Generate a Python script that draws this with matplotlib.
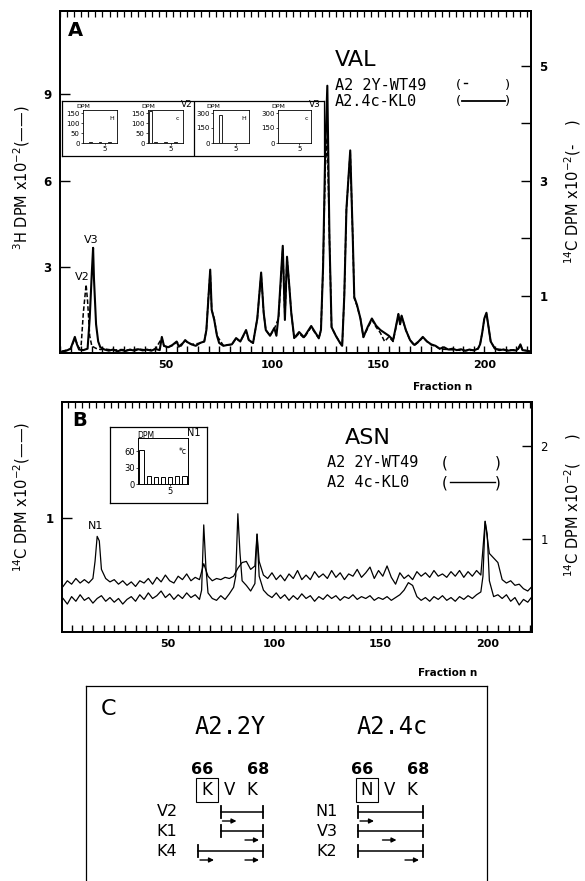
import matplotlib
matplotlib.use('Agg')
import matplotlib.pyplot as plt
from matplotlib.ticker import MultipleLocator, FixedLocator, FixedFormatter, NullFormatter
from matplotlib.lines import Line2D
from matplotlib.patches import Rectangle
import numpy as np

# ---------------- data: panel A (VAL) ----------------
a_frac_3h = [
    1, 3, 5, 6, 7, 8, 9, 11, 13, 14,
    15, 15.6, 16, 17, 18, 19, 21, 23, 25, 27,
    29, 31, 33, 35, 37, 39, 41, 43, 45, 47,
    48, 49, 51, 53, 55, 56, 58, 59, 60, 62,
    64, 66, 68, 69, 70, 70.8, 71.5, 72.7, 74, 75,
    77, 79, 81, 83, 85, 87.7, 89, 91, 93, 94.8,
    96, 97, 99, 101, 102, 103, 104, 105, 106, 107,
    108, 109, 110.4, 112.7, 115, 118.4, 120, 122, 123, 124,
    125, 126, 127, 128, 130, 132, 133, 134, 135, 136.8,
    138, 138.7, 140, 141.6, 143, 145, 147, 149, 151, 153,
    155, 157, 158, 159.5, 160.3, 161, 163, 165, 167, 169,
    171, 173, 175, 177, 179, 181, 183, 185, 187, 189,
    191, 193, 195, 197, 198, 199, 200, 201, 202, 203,
    205, 207, 209, 211, 213, 215, 216, 217, 218, 220,
    221.5]
a_dpm_3h = [
    0.05, 0.08, 0.15, 0.35, 0.56, 0.30, 0.12, 0.10, 0.15, 1.20,
    2.80, 3.66, 2.60, 1.00, 0.40, 0.20, 0.12, 0.08, 0.12, 0.06,
    0.10, 0.07, 0.12, 0.08, 0.13, 0.09, 0.12, 0.08, 0.14, 0.10,
    0.56, 0.25, 0.20, 0.28, 0.40, 0.22, 0.35, 0.45, 0.38, 0.30,
    0.25, 0.35, 0.40, 0.80, 2.00, 2.90, 1.50, 1.15, 0.60, 0.35,
    0.25, 0.28, 0.30, 0.52, 0.40, 0.80, 0.45, 0.35, 1.20, 2.80,
    1.40, 0.80, 0.60, 0.87, 0.60, 1.30, 2.50, 3.73, 1.15, 3.35,
    2.40, 1.40, 0.52, 0.73, 0.55, 0.94, 0.75, 0.52, 0.80, 3.00,
    7.00, 9.30, 4.00, 0.90, 0.60, 0.35, 0.25, 2.00, 5.00, 7.05,
    4.00, 1.95, 1.67, 1.20, 0.56, 0.90, 1.20, 0.95, 0.80, 0.70,
    0.60, 0.45, 0.80, 1.36, 1.00, 1.30, 0.80, 0.45, 0.28, 0.40,
    0.56, 0.40, 0.30, 0.25, 0.15, 0.20, 0.12, 0.15, 0.10, 0.13,
    0.08, 0.12, 0.09, 0.15, 0.30, 0.70, 1.20, 1.40, 0.90, 0.40,
    0.15, 0.10, 0.12, 0.08, 0.10, 0.09, 0.15, 0.30, 0.10, 0.08,
    0.06]

a_frac_14c = [
    1, 3, 5, 7, 9, 10, 11, 12.3, 13, 14,
    15, 17, 19, 21, 25, 29, 33, 37, 41, 45,
    48, 49, 51, 53, 55, 57, 59, 62, 66, 68,
    69, 70, 70.8, 71.5, 72.7, 74, 77, 81, 83, 85,
    87.7, 89, 91, 93, 94.8, 96, 97, 99, 101, 103,
    104, 105, 106, 107, 108, 109, 110.4, 112.7, 115, 118.4,
    120, 122, 123, 124, 125, 126, 127, 128, 130, 132,
    133, 134, 135, 136.8, 138, 138.7, 140, 141.6, 143, 145,
    147, 149, 151, 153, 155, 157, 158, 159.5, 160.3, 161,
    163, 165, 167, 169, 171, 173, 175, 177, 179, 183,
    187, 191, 195, 197, 198, 199, 200, 201, 202, 203,
    205, 209, 213, 216, 217, 218, 221.5]
a_dpm_14c = [
    0.03, 0.05, 0.07, 0.25, 0.08, 0.15, 0.70, 1.19, 0.90, 0.30,
    0.12, 0.08, 0.06, 0.07, 0.05, 0.06, 0.05, 0.07, 0.05, 0.07,
    0.26, 0.12, 0.10, 0.13, 0.19, 0.12, 0.21, 0.15, 0.17, 0.20,
    0.40, 1.00, 1.42, 0.75, 0.60, 0.30, 0.13, 0.15, 0.25, 0.20,
    0.38, 0.22, 0.17, 0.60, 1.38, 0.70, 0.40, 0.30, 0.42, 0.60,
    1.20, 1.82, 0.60, 1.65, 1.20, 0.70, 0.25, 0.34, 0.26, 0.45,
    0.36, 0.25, 0.40, 1.50, 3.20, 3.75, 2.00, 0.45, 0.30, 0.18,
    0.12, 1.00, 2.50, 3.50, 2.00, 0.95, 0.82, 0.60, 0.27, 0.43,
    0.58, 0.45, 0.35, 0.20, 0.28, 0.20, 0.38, 0.67, 0.50, 0.64,
    0.40, 0.22, 0.13, 0.19, 0.27, 0.20, 0.14, 0.12, 0.07, 0.06,
    0.05, 0.04, 0.05, 0.07, 0.15, 0.35, 0.60, 0.68, 0.45, 0.20,
    0.07, 0.06, 0.05, 0.07, 0.14, 0.05, 0.03]

# Edman cycle insets (panel A)
inset_cycles = [1, 2, 3, 4, 5, 6, 7]
a_inset_v2_3h = [2, 3, 2, 3, 2, 3, 2]
a_inset_v2_14c = [158, 3, 2, 3, 2, 3, 2]
a_inset_v3_3h = [4, 285, 4, 3, 4, 3, 4]
a_inset_v3_14c = [3, 4, 3, 4, 3, 2, 3]

# ---------------- data: panel B (ASN) ----------------
b_frac_4c = [
    1, 3, 5, 7, 9, 11, 13, 15, 16, 17,
    18, 19, 21, 23, 25, 27, 29, 31, 33, 35,
    37, 39, 41, 43, 45, 47, 49, 51, 53, 55,
    57, 59, 61, 63, 65, 67, 69, 71, 73, 75,
    77, 79, 81, 83, 85, 87, 89, 91, 92, 93,
    95, 97, 99, 101, 103, 105, 107, 109, 111, 113,
    115, 117, 119, 121, 123, 125, 127, 129, 131, 133,
    135, 137, 139, 141, 143, 145, 147, 149, 151, 153,
    155, 157, 159, 161, 163, 165, 167, 169, 171, 173,
    175, 177, 179, 181, 183, 185, 187, 189, 191, 193,
    195, 197, 199, 201, 203, 205, 207, 209, 211, 213,
    215, 217, 219, 221]
b_dpm_4c = [
    0.40, 0.45, 0.42, 0.47, 0.43, 0.46, 0.43, 0.47, 0.62, 0.84,
    0.80, 0.55, 0.47, 0.44, 0.46, 0.42, 0.45, 0.41, 0.44, 0.40,
    0.45, 0.43, 0.47, 0.42, 0.48, 0.44, 0.50, 0.45, 0.43, 0.49,
    0.46, 0.51, 0.45, 0.48, 0.46, 0.60, 0.49, 0.45, 0.47, 0.46,
    0.48, 0.47, 0.49, 0.56, 0.61, 0.62, 0.55, 0.58, 0.86, 0.62,
    0.50, 0.47, 0.52, 0.46, 0.50, 0.45, 0.51, 0.47, 0.54, 0.46,
    0.50, 0.46, 0.53, 0.48, 0.51, 0.47, 0.54, 0.48, 0.52, 0.46,
    0.51, 0.49, 0.55, 0.48, 0.52, 0.57, 0.47, 0.54, 0.49, 0.58,
    0.48, 0.42, 0.52, 0.47, 0.50, 0.46, 0.53, 0.49, 0.52, 0.48,
    0.54, 0.49, 0.51, 0.48, 0.53, 0.49, 0.54, 0.48, 0.53, 0.49,
    0.54, 0.50, 0.97, 0.69, 0.65, 0.61, 0.46, 0.43, 0.45, 0.41,
    0.42, 0.38, 0.36, 0.40]

b_frac_2y = [
    1, 3, 5, 7, 9, 11, 13, 15, 17, 19,
    21, 23, 25, 27, 29, 31, 33, 35, 37, 39,
    41, 43, 45, 47, 49, 51, 53, 55, 57, 59,
    61, 63, 65, 66, 67, 68, 69, 71, 73, 75,
    77, 79, 81, 82, 83, 84, 85, 87, 89, 91,
    92, 93, 95, 97, 99, 101, 103, 105, 107, 109,
    111, 113, 115, 117, 119, 121, 123, 125, 127, 129,
    131, 133, 135, 137, 139, 141, 143, 145, 147, 149,
    151, 153, 155, 157, 159, 161, 163, 165, 167, 169,
    171, 173, 175, 177, 179, 181, 183, 185, 187, 189,
    191, 193, 195, 197, 198, 199, 200, 201, 203, 205,
    207, 209, 211, 213, 215, 217, 219, 221]
b_dpm_2y = [
    0.36, 0.30, 0.38, 0.33, 0.40, 0.34, 0.37, 0.31, 0.36, 0.39,
    0.33, 0.37, 0.32, 0.36, 0.30, 0.35, 0.38, 0.33, 0.40, 0.35,
    0.42, 0.36, 0.39, 0.44, 0.37, 0.41, 0.35, 0.40, 0.36, 0.42,
    0.37, 0.40, 0.35, 0.45, 1.15, 0.70, 0.42, 0.36, 0.34, 0.39,
    0.35, 0.41, 0.48, 0.60, 1.27, 0.85, 0.55, 0.50, 0.44, 0.52,
    1.05, 0.60, 0.45, 0.40, 0.37, 0.42, 0.36, 0.40, 0.34, 0.39,
    0.35, 0.41, 0.36, 0.39, 0.33, 0.38, 0.35, 0.40, 0.36, 0.39,
    0.34, 0.38, 0.36, 0.40, 0.35, 0.38, 0.36, 0.39, 0.34, 0.37,
    0.35, 0.38, 0.34, 0.37, 0.40, 0.45, 0.53, 0.50, 0.38, 0.34,
    0.37, 0.33, 0.38, 0.35, 0.39, 0.34, 0.37, 0.33, 0.38, 0.35,
    0.39, 0.36, 0.40, 0.43, 0.60, 1.19, 1.05, 0.55, 0.38, 0.40,
    0.36, 0.40, 0.33, 0.37, 0.29, 0.35, 0.32, 0.38]

b_inset_n1_14c = [62, 14, 13, 12, 13, 14, 15]

# ---------------- data: panel C ----------------
c_groups = ['A2.2Y', 'A2.4c']
c_numbers = [66, 68]
c_residues = [['K', 'V', 'K'], ['N', 'V', 'K']]
c_pep_names = [['V2', 'K1', 'K4'], ['N1', 'V3', 'K2']]
c_pep_start = [[67, 67, 66], [66, 66, 66]]
c_pep_end = [[68, 68, 68], [68, 68, 68]]
c_pep_marked = [[[67], [68], [66, 68]], [[66], [67], [68]]]

# ---------------- layout helpers ----------------
W, H = 585, 881
plt.rcParams['font.family'] = ['DejaVu Sans']
fig = plt.figure(figsize=(W / 100, H / 100), dpi=100)


def rect(x0, y0, x1, y1):
    return [x0 / W, 1 - y1 / H, (x1 - x0) / W, (y1 - y0) / H]


def ftext(x, y, s, **kw):
    fig.text(x / W, 1 - y / H, s, **kw)


def fline(x0, x1, y, **kw):
    fig.add_artist(Line2D([x0 / W, x1 / W], [1 - y / H, 1 - y / H], color='k', **kw))


def style_main(ax, xmax, xmin=0):
    ax.set_xlim(xmin, xmax)
    ax.xaxis.set_major_locator(FixedLocator([50, 100, 150, 200]))
    ax.xaxis.set_minor_locator(MultipleLocator(5))
    ax.tick_params(axis='x', which='both', direction='in', length=5, width=1,
                   labelsize=8, pad=5)
    ax.tick_params(axis='y', which='both', direction='in', length=7, width=1,
                   labelsize=8.5, pad=6)
    for lab in ax.get_xticklabels() + ax.get_yticklabels():
        lab.set_fontweight('bold')
    for s in ax.spines.values():
        s.set_linewidth(1.3)
    sec = ax.secondary_xaxis('top')
    sec.set_xticks(np.arange(0, xmax, 10 / 3))
    sec.xaxis.set_major_formatter(NullFormatter())
    sec.tick_params(direction='in', length=4, width=0.9)
    sec.spines['top'].set_linewidth(1.3)


# ================= Panel A =================
axA = fig.add_axes(rect(60, 11, 531, 353))
axA.plot(a_frac_3h, a_dpm_3h, color='k', lw=1.5)
axA.set_ylim(0, 11.9)
axA.set_yticks([3, 6, 9])
style_main(axA, 222)
axA2 = axA.twinx()
axA2.plot(a_frac_14c, a_dpm_14c, color='k', lw=1.1, ls=(0, (3, 1.5)))
axA2.set_ylim(0, 5.95)
axA2.yaxis.set_major_locator(FixedLocator([1, 2, 3, 4, 5]))
axA2.yaxis.set_major_formatter(FixedFormatter(['1', '', '3', '', '5']))
axA2.tick_params(axis='y', direction='in', length=7, width=1, labelsize=8.5, pad=6)
for lab in axA2.get_yticklabels():
    lab.set_fontweight('bold')
for s in axA2.spines.values():
    s.set_linewidth(1.3)

axA.text(14.9, 3.94, 'V3', fontsize=8, ha='center', va='center')
axA.text(10.6, 2.63, 'V2', fontsize=8, ha='center', va='center')

ftext(75, 30, 'A', fontsize=14, fontweight='bold', ha='center', va='center')
ftext(335, 60, 'VAL', fontsize=16, ha='left', va='center')
ftext(335, 85, 'A2 2Y-WT49', fontsize=11, family='DejaVu Sans Mono', ha='left', va='center')
ftext(335, 101, 'A2.4c-KL0', fontsize=11, family='DejaVu Sans Mono', ha='left', va='center')
for yy in (85, 101):
    ftext(458, yy, '(', fontsize=9.5, ha='center', va='center')
    ftext(508, yy, ')', fontsize=9.5, ha='center', va='center')
fline(464, 467, 83, lw=1.0)
fline(462, 505, 101, lw=1.3)
ftext(443, 387, 'Fraction n', fontsize=7.5, fontweight='bold', ha='center', va='center')
ftext(22, 178, r'$^{3}$H DPM x10$^{-2}$(——)', fontsize=10.5, rotation=90,
      ha='center', va='center')
ftext(573, 192, r'$^{14}$C DPM x10$^{-2}$(-    )', fontsize=10.5, rotation=90,
      ha='center', va='center')

# inset box with four Edman cycle histograms
axBox = fig.add_axes(rect(62, 101, 324, 156))
axBox.set_xticks([])
axBox.set_yticks([])
for s in axBox.spines.values():
    s.set_linewidth(0.9)
axBox.plot([0.504, 0.504], [0, 1], color='k', lw=0.9, transform=axBox.transAxes)


def mini_hist(r, vals, ymax, yticks, iso, pep=None):
    ax = fig.add_axes(r)
    ax.bar(inset_cycles, vals, width=0.55, facecolor='white', edgecolor='k', lw=0.6)
    ax.set_xlim(0.5, 7.5)
    ax.set_ylim(0, ymax)
    ax.set_yticks(yticks)
    ax.set_yticklabels([str(t) for t in yticks])
    ax.set_xticks([5])
    ax.set_xticklabels(['5'])
    ax.tick_params(labelsize=5, length=1.5, width=0.5, pad=1)
    for s in ax.spines.values():
        s.set_linewidth(0.6)
    ax.patch.set_alpha(0)
    ax.text(0.0, 1.03, 'DPM', fontsize=4.5, transform=ax.transAxes, ha='center', va='bottom')
    ax.text(0.85, 0.75, iso, fontsize=4.5, transform=ax.transAxes, ha='center', va='center')
    if pep:
        ax.text(1.12, 1.03, pep, fontsize=6.5, transform=ax.transAxes, ha='center', va='bottom')
    return ax


mini_hist(rect(83, 110, 117, 143), a_inset_v2_3h, 165, [0, 50, 100, 150], 'H')
mini_hist(rect(148, 110, 183, 143), a_inset_v2_14c, 165, [0, 50, 100, 150], 'c', 'V2')
mini_hist(rect(213, 110, 249, 143), a_inset_v3_3h, 330, [0, 150, 300], 'H')
mini_hist(rect(278, 110, 311, 143), a_inset_v3_14c, 330, [0, 150, 300], 'c', 'V3')

# ================= Panel B =================
axB = fig.add_axes(rect(62, 402, 532, 632))
axB.plot(b_frac_4c, b_dpm_4c, color='k', lw=0.9)
axB.set_ylim(0, 2.02)
axB.set_yticks([1])
style_main(axB, 221, 0.5)
axB2 = axB.twinx()
axB2.plot(b_frac_2y, b_dpm_2y, color='k', lw=0.9)
axB2.set_ylim(0, 2.47)
axB2.set_yticks([1, 2])
axB2.tick_params(axis='y', direction='in', length=7, width=1, labelsize=8.5, pad=6)
for s in axB2.spines.values():
    s.set_linewidth(1.3)
axB.text(16.4, 0.93, 'N1', fontsize=8, ha='center', va='center')

ftext(80, 420, 'B', fontsize=14, fontweight='bold', ha='center', va='center')
ftext(345, 438, 'ASN', fontsize=16, ha='left', va='center')
ftext(327, 463, 'A2 2Y-WT49', fontsize=11, family='DejaVu Sans Mono', ha='left', va='center')
ftext(327, 483, 'A2 4c-KL0', fontsize=11, family='DejaVu Sans Mono', ha='left', va='center')
for yy in (463, 483):
    ftext(445, yy, '(', fontsize=11, ha='center', va='center')
    ftext(498, yy, ')', fontsize=11, ha='center', va='center')
fline(450, 495, 482, lw=1.0)
ftext(448, 673, 'Fraction n', fontsize=7.5, fontweight='bold', ha='center', va='center')
ftext(22, 497, r'$^{14}$C DPM x10$^{-2}$(——)', fontsize=10.5, rotation=90,
      ha='center', va='center')
ftext(573, 505, r'$^{14}$C DPM x10$^{-2}$(     )', fontsize=10.5, rotation=90,
      ha='center', va='center')

axBb = fig.add_axes(rect(110, 427, 207, 503))
axBb.set_xticks([])
axBb.set_yticks([])
for s in axBb.spines.values():
    s.set_linewidth(0.9)
axBi = fig.add_axes(rect(138, 438, 188, 484))
axBi.bar(inset_cycles, b_inset_n1_14c, width=0.6, facecolor='white', edgecolor='k', lw=0.7)
axBi.set_xlim(0.5, 7.5)
axBi.set_ylim(0, 84)
axBi.set_yticks([0, 30, 60])
axBi.set_xticks([5])
axBi.tick_params(labelsize=6, length=1.5, width=0.5, pad=1)
for s in axBi.spines.values():
    s.set_linewidth(0.7)
axBi.patch.set_alpha(0)
ftext(146, 435, 'DPM', fontsize=5.5, ha='center', va='center')
ftext(194, 433, 'N1', fontsize=7, ha='center', va='center')
ftext(183, 452, '*c', fontsize=5.5, ha='center', va='center')

# ================= Panel C =================
axC = fig.add_axes(rect(86, 686, 487, 900))
axC.set_xlim(86, 487)
axC.set_ylim(900, 686)
axC.set_xticks([])
axC.set_yticks([])
axC.spines['bottom'].set_visible(False)
for s in axC.spines.values():
    s.set_linewidth(0.9)
axC.text(108, 709, 'C', fontsize=16, ha='center', va='center')

group_x66 = [207, 367]
title_x = [230, 392]
label_x = [167, 327]
res_step = 22.5
row_y = [812, 831, 851]
for g in range(2):
    def rx(r, g=g):
        return group_x66[g] + (r - 66) * res_step
    axC.text(title_x[g], 727, c_groups[g], fontsize=17, family='DejaVu Sans Mono',
             ha='center', va='center')
    axC.text(rx(c_numbers[0]) - 5, 770, str(c_numbers[0]), fontsize=11.5,
             fontweight='bold', ha='center', va='center')
    axC.text(rx(c_numbers[1]) + 6, 770, str(c_numbers[1]), fontsize=11.5,
             fontweight='bold', ha='center', va='center')
    for i, res in enumerate(c_residues[g]):
        axC.text(rx(66 + i), 790, res, fontsize=12, ha='center', va='center')
    axC.add_patch(Rectangle((rx(66) - 11, 778), 22, 24, fill=False, lw=0.8))
    for k in range(3):
        y = row_y[k]
        axC.text(label_x[g], y, c_pep_names[g][k], fontsize=11.5, ha='center', va='center')
        x0 = rx(c_pep_start[g][k]) - 9
        x1 = rx(c_pep_end[g][k]) + 10.5
        axC.plot([x0, x1], [y, y], color='k', lw=1.1)
        axC.plot([x0, x0], [y - 6, y + 6], color='k', lw=1.3)
        axC.plot([x1, x1], [y - 6, y + 6], color='k', lw=1.3)
        for r in c_pep_marked[g][k]:
            axC.annotate('', xy=(rx(r) + 7, y + 9), xytext=(rx(r) - 7, y + 9),
                         arrowprops=dict(arrowstyle='-|>', lw=1.0, color='k',
                                         mutation_scale=7, shrinkA=0, shrinkB=0))

fig.savefig('out.png', dpi=100)
